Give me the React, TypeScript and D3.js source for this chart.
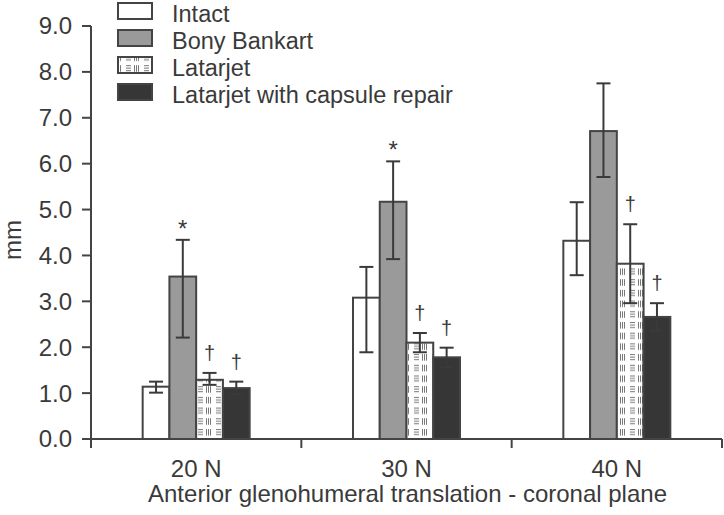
import React from "react";
import * as d3 from "d3";

const categories = ["20 N", "30 N", "40 N"];
const seriesNames = ["Intact", "Bony Bankart", "Latarjet", "Latarjet with capsule repair"];
const intactMean = [1.14, 3.08, 4.32];
const bankartMean = [3.54, 5.17, 6.71];
const latarjetMean = [1.29, 2.1, 3.82];
const capsuleMean = [1.11, 1.78, 2.66];
const intactHigh = [1.25, 3.75, 5.16];
const bankartHigh = [4.34, 6.05, 7.75];
const latarjetHigh = [1.44, 2.31, 4.68];
const capsuleHigh = [1.25, 1.99, 2.96];
const intactLow = [1.01, 1.89, 3.57];
const bankartLow = [2.21, 3.92, 5.71];
const latarjetLow = [1.18, 1.89, 2.96];
const capsuleLow = [0.97, 1.57, 2.36];
// significance markers: series index -> categories with marker
const asteriskSeries = [1];
const asteriskCats = [[0, 1]];
const daggerSeries = [2, 3];
const daggerCats = [[0, 1, 2], [0, 1, 2]];
const yTicks = [0, 1, 2, 3, 4, 5, 6, 7, 8, 9];

const means = [intactMean, bankartMean, latarjetMean, capsuleMean];
const highs = [intactHigh, bankartHigh, latarjetHigh, capsuleHigh];
const lows = [intactLow, bankartLow, latarjetLow, capsuleLow];

const W = 724;
const H = 515;
const left = 91;
const right = 722;
const top = 26;
const bottom = 439;
const ink = "#3a3a3a";
const font = "Liberation Sans, Arial, Helvetica, sans-serif";

const fills = ["#ffffff", "#9a9a9a", "url(#latPat)", "#363636"];

export default function App() {
  const y = d3.scaleLinear().domain([0, 9]).range([bottom, top]);
  const x = d3.scaleBand<string>().domain(categories).range([left, right]).padding(0);
  const groupW = 107;
  const xs = d3
    .scaleBand<string>()
    .domain(seriesNames)
    .range([-groupW / 2, groupW / 2])
    .padding(0);
  const bw = xs.bandwidth();

  const bars: React.ReactNode[] = [];
  const errs: React.ReactNode[] = [];
  const marks: React.ReactNode[] = [];
  categories.forEach((c, ci) => {
    const cx = (x(c) as number) + x.bandwidth() / 2;
    seriesNames.forEach((s, si) => {
      const bx = cx + (xs(s) as number);
      const v = means[si][ci];
      bars.push(
        <rect
          key={`b${ci}-${si}`}
          x={bx}
          y={y(v)}
          width={bw}
          height={y(0) - y(v)}
          fill={fills[si]}
          stroke="#444"
          strokeWidth={2}
        />
      );
      const ex = bx + bw / 2;
      const hi = y(highs[si][ci]);
      const lo = y(lows[si][ci]);
      errs.push(
        <g key={`e${ci}-${si}`} stroke={ink} strokeWidth={2}>
          <line x1={ex} x2={ex} y1={hi} y2={lo} />
          <line x1={ex - 7} x2={ex + 7} y1={hi} y2={hi} />
          <line x1={ex - 7} x2={ex + 7} y1={lo} y2={lo} />
        </g>
      );
    });
  });
  asteriskSeries.forEach((si, k) => {
    asteriskCats[k].forEach((ci) => {
      const c = categories[ci];
      const ex = (x(c) as number) + x.bandwidth() / 2 + (xs(seriesNames[si]) as number) + bw / 2;
      marks.push(
        <text key={`a${si}-${ci}`} x={ex} y={y(highs[si][ci]) - 3} textAnchor="middle" fontSize={24} fill={ink}>
          *
        </text>
      );
    });
  });
  daggerSeries.forEach((si, k) => {
    daggerCats[k].forEach((ci) => {
      const c = categories[ci];
      const ex = (x(c) as number) + x.bandwidth() / 2 + (xs(seriesNames[si]) as number) + bw / 2;
      marks.push(
        <text
          key={`d${si}-${ci}`}
          x={ex}
          y={y(highs[si][ci]) - 13}
          textAnchor="middle"
          fontSize={20}
          fill={ink}
          style={{ WebkitFontSmoothing: "antialiased" } as any}
        >
          †
        </text>
      );
    });
  });

  const pattern = (
    <pattern id="latPat" patternUnits="userSpaceOnUse" width={18} height={10.7} x={0} y={0}>
      <rect width={18} height={10.7} fill="#fff" />
      <g stroke="#777" strokeWidth={1}>
        {[1.5, 4, 6.5].map((yy) => (
          <line key={`h${yy}`} x1={0} x2={5} y1={yy} y2={yy} />
        ))}
        {[8.5, 10.5, 12.5].map((xx) => (
          <line key={`v${xx}`} x1={xx} x2={xx} y1={1} y2={7.5} />
        ))}
      </g>
    </pattern>
  );

  return (
    <svg width={W} height={H} style={{ position: "absolute", left: 0, top: 0, background: "#fff" }} fontFamily={font}>
      <defs>{pattern}</defs>
      {bars}
      {errs}
      {marks}
      {/* y axis */}
      <line x1={left} x2={left} y1={top} y2={bottom + 9} stroke="#444" strokeWidth={2} />
      {yTicks.map((t) => (
        <g key={`yt${t}`}>
          <line x1={left - 9} x2={left} y1={y(t)} y2={y(t)} stroke="#444" strokeWidth={2} />
          <text x={left - 19} y={y(t)} dy="0.35em" textAnchor="end" fontSize={24} fill={ink}>
            {t.toFixed(1)}
          </text>
        </g>
      ))}
      {/* x axis */}
      <line x1={left - 9} x2={right} y1={bottom} y2={bottom} stroke="#444" strokeWidth={2} />
      {categories.map((c, i) => (
        <line
          key={`xt${i}`}
          x1={(x(c) as number) + x.bandwidth()}
          x2={(x(c) as number) + x.bandwidth()}
          y1={bottom}
          y2={bottom + 9}
          stroke="#444"
          strokeWidth={2}
        />
      ))}
      {categories.map((c) => (
        <text key={`xl${c}`} x={(x(c) as number) + x.bandwidth() / 2} y={477} textAnchor="middle" fontSize={24} fill={ink}>
          {c}
        </text>
      ))}
      <text x={(left + right) / 2 + 1} y={502} textAnchor="middle" fontSize={24} fill={ink}>
        Anterior glenohumeral translation - coronal plane
      </text>
      <text transform="translate(21,240) rotate(-90)" textAnchor="middle" fontSize={24} fill={ink}>
        mm
      </text>
      {/* legend */}
      {seriesNames.map((s, i) => (
        <g key={`lg${i}`}>
          <rect x={118} y={3 + i * 27} width={34} height={16} fill={fills[i]} stroke="#444" strokeWidth={2} />
          <text x={172} y={21.5 + i * 27} fontSize={23.5} fill={ink}>
            {s}
          </text>
        </g>
      ))}
    </svg>
  );
}
